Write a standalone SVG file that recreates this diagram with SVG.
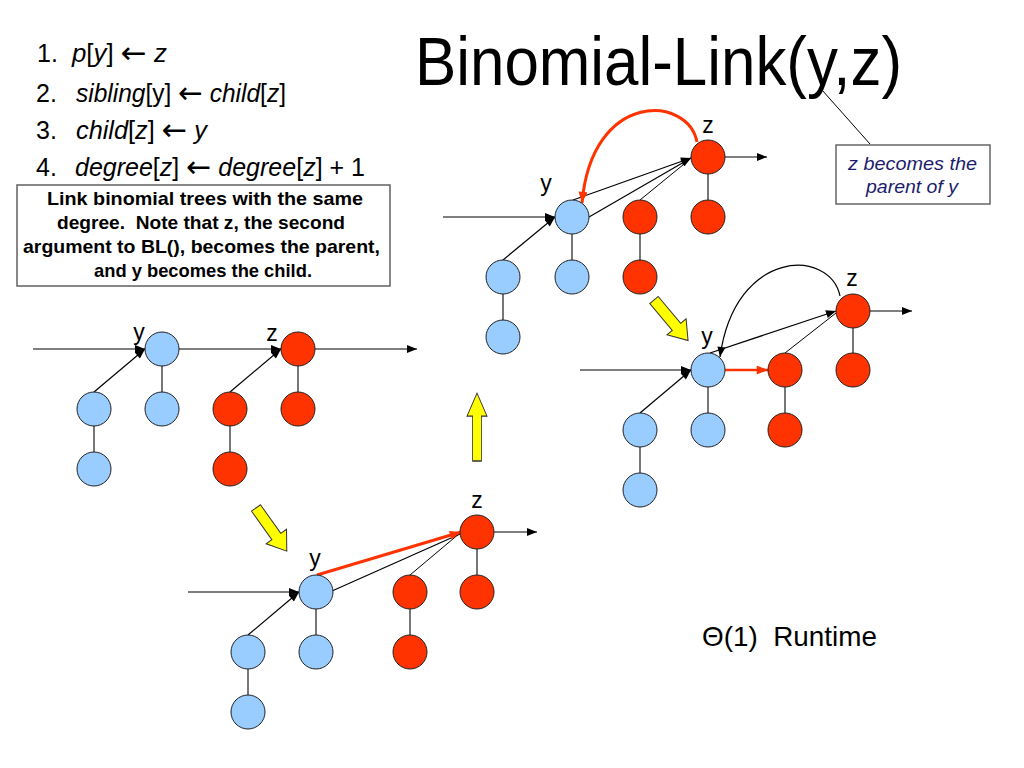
<svg xmlns="http://www.w3.org/2000/svg" width="1024" height="768" viewBox="0 0 1024 768">
<style>
text{font-family:"Liberation Sans",Arial,sans-serif;fill:#000}
.b{fill:#99ccff;stroke:#222;stroke-width:1}
.r{fill:#ff3300;stroke:#222;stroke-width:1}
.t{stroke:#555;stroke-width:1.6;fill:none}
.a{stroke:#000;stroke-width:1.2;fill:none;marker-end:url(#ah)}
.ra{stroke:#ff3300;stroke-width:3;fill:none;marker-end:url(#rh)}
.lbl{font-size:23px;text-anchor:middle}
.code{font-size:25px}
.i{font-style:italic}
.arr{font-family:"DejaVu Sans",sans-serif;font-size:30px}
.box{font-size:18.5px;font-weight:bold}
.ya{fill:#ffff00;stroke:#333;stroke-width:1}
</style>
<defs>
<marker id="ah" viewBox="0 0 10 8" refX="10" refY="4" markerWidth="11" markerHeight="8" markerUnits="userSpaceOnUse" orient="auto"><path d="M0,0 L10,4 L0,8 z" fill="#000"/></marker>
<marker id="rh" viewBox="0 0 10 8" refX="10" refY="4" markerWidth="12" markerHeight="9" markerUnits="userSpaceOnUse" orient="auto"><path d="M0,0 L10,4 L0,8 z" fill="#ff3300"/></marker>
<path id="yarrow" d="M0,-5.5 L35,-5.5 L35,-12.5 L53,0 L35,12.5 L35,5.5 L0,5.5 Z"/>
</defs>

<rect width="1024" height="768" fill="#fff"/>

<!-- Title -->
<text x="415" y="85" font-size="68" textLength="487" lengthAdjust="spacingAndGlyphs">Binomial-Link(y,z)</text>

<!-- Pseudo-code -->
<g id="code">
<text class="code" x="37" y="62">1.</text>
<text class="code" x="72" y="62" textLength="95" lengthAdjust="spacingAndGlyphs"><tspan class="i">p</tspan>[<tspan class="i">y</tspan>] <tspan class="arr" dy="1">←</tspan><tspan dy="-1"> </tspan><tspan class="i">z</tspan></text>
<text class="code" x="36" y="102">2.</text>
<text class="code" x="76" y="102" textLength="210" lengthAdjust="spacingAndGlyphs"><tspan class="i">sibling</tspan>[y] <tspan class="arr" dy="1">←</tspan><tspan dy="-1"> </tspan><tspan class="i">child</tspan>[<tspan class="i">z</tspan>]</text>
<text class="code" x="36" y="139">3.</text>
<text class="code" x="76" y="139" textLength="131" lengthAdjust="spacingAndGlyphs"><tspan class="i">child</tspan>[<tspan class="i">z</tspan>] <tspan class="arr" dy="1">←</tspan><tspan dy="-1"> </tspan><tspan class="i">y</tspan></text>
<text class="code" x="36" y="176">4.</text>
<text class="code" x="75" y="176" textLength="290" lengthAdjust="spacingAndGlyphs"><tspan class="i">degree</tspan>[<tspan class="i">z</tspan>] <tspan class="arr" dy="1">←</tspan><tspan dy="-1"> </tspan><tspan class="i">degree</tspan>[<tspan class="i">z</tspan>] + 1</text>
</g>

<!-- Note box -->
<g id="note">
<rect x="17" y="185" width="373" height="101" fill="#fff" stroke="#606060" stroke-width="1.5"/>
<text class="box" x="47" y="205" textLength="316" lengthAdjust="spacingAndGlyphs">Link binomial trees with the same</text>
<text class="box" x="57" y="229" textLength="288" lengthAdjust="spacingAndGlyphs">degree.&#160; Note that z, the second</text>
<text class="box" x="23" y="253" textLength="357" lengthAdjust="spacingAndGlyphs">argument to BL(), becomes the parent,</text>
<text class="box" x="94" y="277" textLength="218" lengthAdjust="spacingAndGlyphs">and y becomes the child.</text>
</g>

<!-- Callout -->
<g id="callout">
<line x1="870" y1="144" x2="822" y2="90" stroke="#000" stroke-width="1"/>
<rect x="836" y="145" width="154" height="59" fill="#fff" stroke="#666" stroke-width="1.5"/>
<text x="848" y="170" font-size="18" font-style="italic" style="fill:#1c1c6c" textLength="129" lengthAdjust="spacingAndGlyphs">z becomes the</text>
<text x="866" y="193" font-size="18" font-style="italic" style="fill:#1c1c6c" textLength="92" lengthAdjust="spacingAndGlyphs">parent of y</text>
</g>

<text x="702" y="646" font-size="28" textLength="175" lengthAdjust="spacingAndGlyphs">Θ(1)&#160; Runtime</text>

<!-- Yellow transition arrows -->
<g id="transitions">
<use href="#yarrow" class="ya" transform="translate(256,508) rotate(54.5)"/>
<use href="#yarrow" class="ya" transform="translate(477,461) rotate(-90) scale(1.28,0.8)"/>
<use href="#yarrow" class="ya" transform="translate(654,300) rotate(50)"/>
</g>

<!-- Connectors -->
<g id="connectors">
<!-- Panel 1 -->
<line class="a" x1="33" y1="349" x2="145" y2="349"/>
<line class="a" x1="94" y1="392" x2="145" y2="349"/>
<line class="t" x1="162" y1="366" x2="162" y2="392"/>
<line class="t" x1="94" y1="426" x2="94" y2="452"/>
<line class="a" x1="179" y1="349" x2="281" y2="349"/>
<line class="a" x1="230" y1="392" x2="281" y2="349"/>
<line class="t" x1="298" y1="366" x2="298" y2="392"/>
<line class="t" x1="230" y1="426" x2="230" y2="452"/>
<line class="a" x1="315" y1="349" x2="417" y2="349"/>
<!-- Panel 2 -->
<line class="a" x1="188" y1="592" x2="299" y2="592"/>
<line class="a" x1="248" y1="635" x2="299" y2="592"/>
<line class="t" x1="316" y1="609" x2="316" y2="635"/>
<line class="t" x1="248" y1="669" x2="248" y2="695"/>
<line stroke="#000" stroke-width="1.2" x1="332" y1="591" x2="460" y2="534"/>
<line stroke="#000" stroke-width="1" x1="410" y1="575" x2="460" y2="533"/>
<line class="t" x1="477" y1="549" x2="477" y2="575"/>
<line class="t" x1="410" y1="609" x2="410" y2="635"/>
<line class="ra" x1="317" y1="575" x2="461" y2="532"/>
<line class="a" x1="494" y1="532" x2="537" y2="532"/>
<!-- Panel 3 -->
<line class="a" x1="443" y1="217" x2="555" y2="217"/>
<line class="a" x1="503" y1="260" x2="555" y2="217"/>
<line class="t" x1="572" y1="234" x2="572" y2="260"/>
<line class="t" x1="503" y1="294" x2="503" y2="320"/>
<line class="a" x1="573" y1="200" x2="691" y2="158"/>
<line class="a" x1="589" y1="217" x2="691" y2="158"/>
<line stroke="#000" stroke-width="1" x1="640" y1="200" x2="689" y2="160"/>
<line class="t" x1="708" y1="174" x2="708" y2="200"/>
<line class="t" x1="640" y1="234" x2="640" y2="260"/>
<path class="ra" d="M697,142 C688,95 592,90 582,203"/>
<line class="a" x1="725" y1="157" x2="767" y2="157"/>
<!-- Panel 4 -->
<line class="a" x1="580" y1="370" x2="691" y2="370"/>
<line class="a" x1="640" y1="413" x2="691" y2="370"/>
<line class="t" x1="708" y1="387" x2="708" y2="413"/>
<line class="t" x1="640" y1="447" x2="640" y2="473"/>
<line stroke="#ff3300" stroke-width="2.5" fill="none" marker-end="url(#rh)" x1="725" y1="370" x2="768" y2="370"/>
<line class="t" x1="785" y1="387" x2="785" y2="413"/>
<line stroke="#000" stroke-width="1" x1="785" y1="353" x2="836" y2="313"/>
<line class="t" x1="853" y1="328" x2="853" y2="353"/>
<line class="a" x1="710" y1="353" x2="836" y2="311"/>
<path class="a" d="M840,296 C830,248 735,248 720,357"/>
<line class="a" x1="870" y1="311" x2="912" y2="311"/>
</g>

<!-- Panel 1 nodes -->
<g id="p1-y"><circle class="b" cx="162" cy="349" r="17"/><text class="lbl" x="139" y="340">y</text></g>
<g id="p1-y-c1"><circle class="b" cx="94" cy="409" r="17"/></g>
<g id="p1-y-c2"><circle class="b" cx="162" cy="409" r="17"/></g>
<g id="p1-y-gc"><circle class="b" cx="94" cy="469" r="17"/></g>
<g id="p1-z"><circle class="r" cx="298" cy="349" r="17"/><text class="lbl" x="272" y="341">z</text></g>
<g id="p1-z-c1"><circle class="r" cx="230" cy="409" r="17"/></g>
<g id="p1-z-c2"><circle class="r" cx="298" cy="409" r="17"/></g>
<g id="p1-z-gc"><circle class="r" cx="230" cy="469" r="17"/></g>

<!-- Panel 2 nodes -->
<g id="p2-y"><circle class="b" cx="316" cy="592" r="17"/><text class="lbl" x="315" y="566">y</text></g>
<g id="p2-y-c1"><circle class="b" cx="248" cy="652" r="17"/></g>
<g id="p2-y-c2"><circle class="b" cx="316" cy="652" r="17"/></g>
<g id="p2-y-gc"><circle class="b" cx="248" cy="712" r="17"/></g>
<g id="p2-z"><circle class="r" cx="477" cy="532" r="17"/><text class="lbl" x="477" y="508">z</text></g>
<g id="p2-z-c1"><circle class="r" cx="410" cy="592" r="17"/></g>
<g id="p2-z-c2"><circle class="r" cx="477" cy="592" r="17"/></g>
<g id="p2-z-gc"><circle class="r" cx="410" cy="652" r="17"/></g>

<!-- Panel 3 nodes -->
<g id="p3-y"><circle class="b" cx="572" cy="217" r="17"/><text class="lbl" x="546" y="191">y</text></g>
<g id="p3-y-c1"><circle class="b" cx="503" cy="277" r="17"/></g>
<g id="p3-y-c2"><circle class="b" cx="572" cy="277" r="17"/></g>
<g id="p3-y-gc"><circle class="b" cx="503" cy="337" r="17"/></g>
<g id="p3-z"><circle class="r" cx="708" cy="157" r="17"/><text class="lbl" x="708" y="133">z</text></g>
<g id="p3-z-c1"><circle class="r" cx="640" cy="217" r="17"/></g>
<g id="p3-z-c2"><circle class="r" cx="708" cy="217" r="17"/></g>
<g id="p3-z-gc"><circle class="r" cx="640" cy="277" r="17"/></g>

<!-- Panel 4 nodes -->
<g id="p4-y"><circle class="b" cx="708" cy="370" r="17"/><text class="lbl" x="707" y="344">y</text></g>
<g id="p4-y-c1"><circle class="b" cx="640" cy="430" r="17"/></g>
<g id="p4-y-c2"><circle class="b" cx="708" cy="430" r="17"/></g>
<g id="p4-y-gc"><circle class="b" cx="640" cy="490" r="17"/></g>
<g id="p4-z"><circle class="r" cx="853" cy="311" r="17"/><text class="lbl" x="852" y="286">z</text></g>
<g id="p4-z-c1"><circle class="r" cx="785" cy="370" r="17"/></g>
<g id="p4-z-c2"><circle class="r" cx="853" cy="370" r="17"/></g>
<g id="p4-z-gc"><circle class="r" cx="785" cy="430" r="17"/></g>
</svg>
